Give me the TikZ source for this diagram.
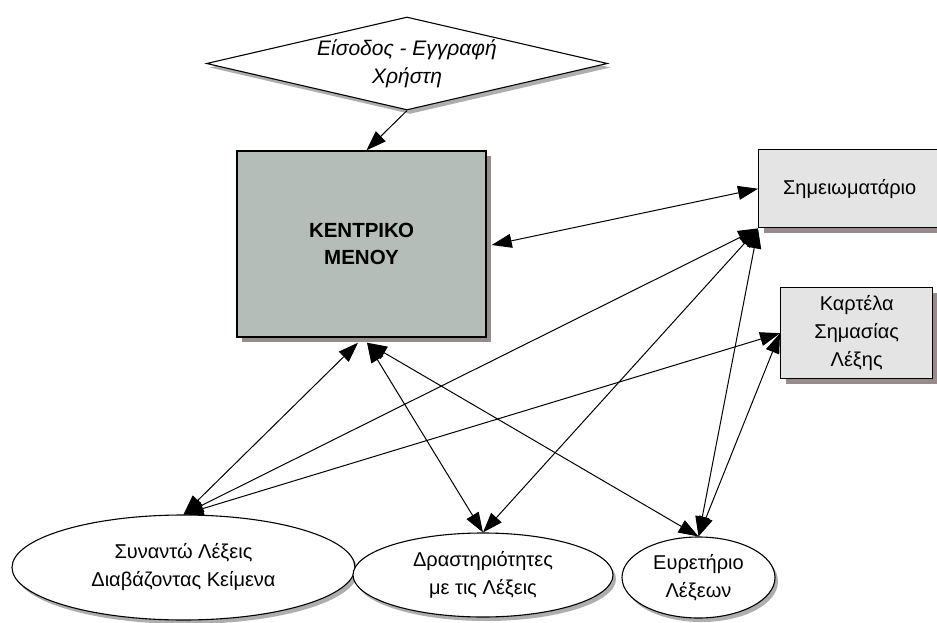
\documentclass[tikz,border=0pt]{standalone}
\usepackage{fontspec}
\setmainfont{Liberation Sans}
\usetikzlibrary{shapes.geometric,arrows.meta,shadows,calc}
\definecolor{menufill}{HTML}{B4BDB7}
\definecolor{boxfill}{HTML}{E5E4E4}
\definecolor{shadowbrown}{HTML}{978B8B}
\begin{document}
\begin{tikzpicture}[x=1pt,y=-1pt,
  every node/.style={font=\fontsize{20}{27}\selectfont, align=center, inner sep=0pt},
  boxnode/.style={draw=black, line width=1.4pt, drop shadow={shadow xshift=5pt, shadow yshift=-5pt, fill=shadowbrown, opacity=1}},
  ellnode/.style={ellipse, draw=black, line width=1.1pt, fill=white, drop shadow={shadow xshift=3pt, shadow yshift=-4pt, fill=black!45, opacity=0.7}},
  link/.style={line width=1pt, {Triangle[length=20pt,width=14pt]}-{Triangle[length=20pt,width=14pt]}},
  onelink/.style={line width=1pt, -{Triangle[length=20pt,width=14pt]}}
]
\useasboundingbox (0,0) rectangle (937,623);
\fill[white] (0,0) rectangle (937,623);

\node[diamond, aspect=4.3, draw=black, line width=1.1pt, fill=white, minimum width=401pt, minimum height=93pt,
  font=\fontsize{21}{28}\selectfont\itshape,
  drop shadow={shadow xshift=3pt,shadow yshift=-4pt,fill=black!45,opacity=.7}] (login) at (407,63.5) {Είσοδος - Εγγραφή\\Χρήστη};

\node[boxnode, fill=menufill, minimum width=249pt, minimum height=186pt, font=\fontsize{20.5}{27}\selectfont\bfseries] (menu) at (361.5,244) {ΚΕΝΤΡΙΚΟ\\ΜΕΝΟΥ};

\node[boxnode, fill=boxfill, minimum width=182pt, minimum height=78pt, anchor=north west] (notes) at (758,149) {Σημειωματάριο};

\node[boxnode, fill=boxfill, minimum width=152pt, minimum height=91pt, anchor=north west, font=\fontsize{20}{28}\selectfont] (card) at (780,287) {Καρτέλα\\Σημασίας\\Λέξης};

\node[ellnode, minimum width=343pt, minimum height=105pt, font=\fontsize{20}{28}\selectfont] (meet) at (183.5,567.5) {Συναντώ Λέξεις\\Διαβάζοντας Κείμενα};
\node[ellnode, minimum width=260pt, minimum height=84pt, font=\fontsize{20}{28}\selectfont] (act) at (483,575) {Δραστηριότητες\\με τις Λέξεις};
\node[ellnode, minimum width=153pt, minimum height=81pt, font=\fontsize{20}{28}\selectfont] (index) at (698.5,577.5) {Ευρετήριο\\Λέξεων};

\coordinate (mb1) at ($(menu.south)+(-3.5,5)$);
\coordinate (mb2) at ($(menu.south)+(5.5,5)$);
\coordinate (mr) at ($(menu.east)+(5,1)$);
\coordinate (mt) at ($(menu.north)+(5,0)$);

\draw[onelink] (login.south) -- (mt);
\draw[link] (mr) -- (notes.west);
\draw[link] (meet.north) -- (mb1);
\draw[link] (act.north) -- (mb2);
\draw[link] (index.north) -- (mb2);
\draw[link] (meet.north) -- (notes.south west);
\draw[link] (meet.north) -- (card.west);
\draw[link] (act.north) -- (notes.south west);
\draw[link] (index.north) -- (notes.south west);
\draw[link] (index.north) -- (card.west);
\end{tikzpicture}
\end{document}
